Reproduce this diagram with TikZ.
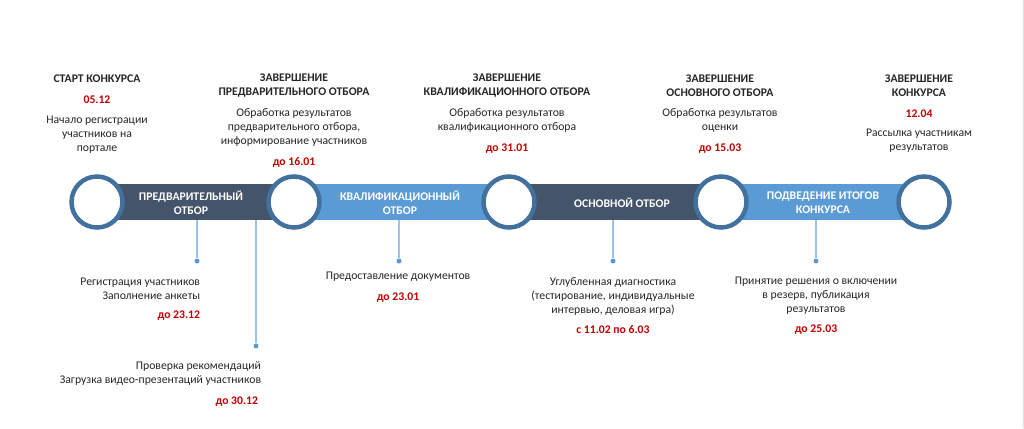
\documentclass[tikz,border=0pt]{standalone}
\usepackage{fontspec}
\setmainfont{Carlito}
\definecolor{bandDark}{HTML}{44546A}
\definecolor{bandLight}{HTML}{5B9BD5}
\definecolor{ringBlue}{HTML}{41719C}
\definecolor{lineBlue}{HTML}{9DC3E6}
\definecolor{dateRed}{HTML}{C00000}
\definecolor{txtGray}{HTML}{262626}

\begin{document}
\begin{tikzpicture}[x=1pt,y=1pt,yscale=-1,xscale=1,
  ring/.style={circle,draw=ringBlue,line width=4.5pt,fill=white,minimum size=51pt,inner sep=0pt},
  bandtxt/.style={text=white,font=\fontsize{11.7}{14}\selectfont\bfseries,align=center,inner sep=0.75pt},
  ttl/.style={text=txtGray,font=\fontsize{11.7}{14}\selectfont\bfseries,align=center,inner sep=0.75pt},
  dt/.style={text=dateRed,font=\fontsize{11.7}{14}\selectfont\bfseries,inner sep=0.75pt},
  body/.style={text=txtGray,font=\fontsize{11.7}{14}\selectfont,align=center,inner sep=0.75pt},
  conn/.style={draw=lineBlue,line width=1.2pt},
  dot/.style={circle,fill=bandLight,inner sep=0pt,minimum size=5pt}]
\useasboundingbox (0,0) rectangle (1024,428);
\draw[black!12] (1023.5,0) -- (1023.5,428);

% Ring centres
\coordinate (p1) at (97,202);
\coordinate (p2) at (294,202);
\coordinate (p3) at (509,202);
\coordinate (p4) at (721,202);
\coordinate (p5) at (924,202);

% Bands
\fill[bandDark] (p1 |- 0,184) rectangle (p2 |- 0,220);
\fill[bandLight] (p2 |- 0,184) rectangle (p3 |- 0,220);
\fill[bandDark] (p3 |- 0,184) rectangle (p4 |- 0,220);
\fill[bandLight] (p4 |- 0,184) rectangle (p5 |- 0,220);

% Band labels
\node[bandtxt] (b1) at (191,203) {ПРЕДВАРИТЕЛЬНЫЙ\\ОТБОР};
\node[bandtxt] (b2) at (400,203) {КВАЛИФИКАЦИОННЫЙ\\ОТБОР};
\node[bandtxt] (b3) at (622,203) {ОСНОВНОЙ ОТБОР};
\node[bandtxt] (b4) at (823,203) {ПОДВЕДЕНИЕ ИТОГОВ\\КОНКУРСА};

% Connectors
\foreach \i/\x/\y in {1/197/261,2/256/346,3/399/261,4/613/261,5/816/261}{
  \coordinate (t\i) at (\x,220);
  \node[dot] (d\i) at (\x,\y) {};
  \draw[conn] (t\i) -- (d\i);
}

% Rings
\foreach \i in {1,...,5}
  \node[ring] (r\i) at (p\i) {};

% Text Node
\node[ttl] (h1) at (97,79) {СТАРТ КОНКУРСА};
\node[dt] (a1) at (97,100) {05.12};
\node[body] (n1) at (97,134.5) {Начало регистрации\\участников на\\портале};
% Text Node
\node[ttl] (h2) at (294,86) {ЗАВЕРШЕНИЕ\\ПРЕДВАРИТЕЛЬНОГО ОТБОРА};
\node[body] (n2) at (294,127.5) {Обработка результатов\\предварительного отбора,\\информирование участников};
\node[dt] (a2) at (294,162) {до 16.01};
% Text Node
\node[ttl] (h3) at (507,86) {ЗАВЕРШЕНИЕ\\КВАЛИФИКАЦИОННОГО ОТБОРА};
\node[body] (n3) at (507,120.5) {Обработка результатов\\квалификационного отбора};
\node[dt] (a3) at (507,149) {до 31.01};
% Text Node
\node[ttl] (h4) at (720,86) {ЗАВЕРШЕНИЕ\\ОСНОВНОГО ОТБОРА};
\node[body] (n4) at (720,120.5) {Обработка результатов\\оценки};
\node[dt] (a4) at (720,149) {до 15.03};
% Text Node
\node[ttl] (h5) at (919,86) {ЗАВЕРШЕНИЕ\\КОНКУРСА};
\node[dt] (a5) at (919,114) {12.04};
\node[body] (n5) at (919,141) {Рассылка участникам\\результатов};

% Text Node
\node[body,align=right,anchor=east] (m1) at (201,289) {Регистрация участников\\Заполнение анкеты};
\node[dt,anchor=east] (c1) at (201,316) {до 23.12};
% Text Node
\node[body,align=right,anchor=east] (m2) at (262,374) {Проверка рекомендаций\\Загрузка видео-презентаций участников};
\node[dt,anchor=east] (c2) at (259,402) {до 30.12};
% Text Node
\node[body] (m3) at (398,277) {Предоставление документов};
\node[dt] (c3) at (398,298) {до 23.01};
% Text Node
\node[body] (m4) at (613,296) {Углубленная диагностика\\(тестирование, индивидуальные\\интервью, деловая игра)};
\node[dt] (c4) at (613,330) {с 11.02 по 6.03};
% Text Node
\node[body] (m5) at (816,296) {Принятие решения о включении\\в резерв, публикация\\результатов};
\node[dt] (c5) at (816,330) {до 25.03};

\end{tikzpicture}
\end{document}
